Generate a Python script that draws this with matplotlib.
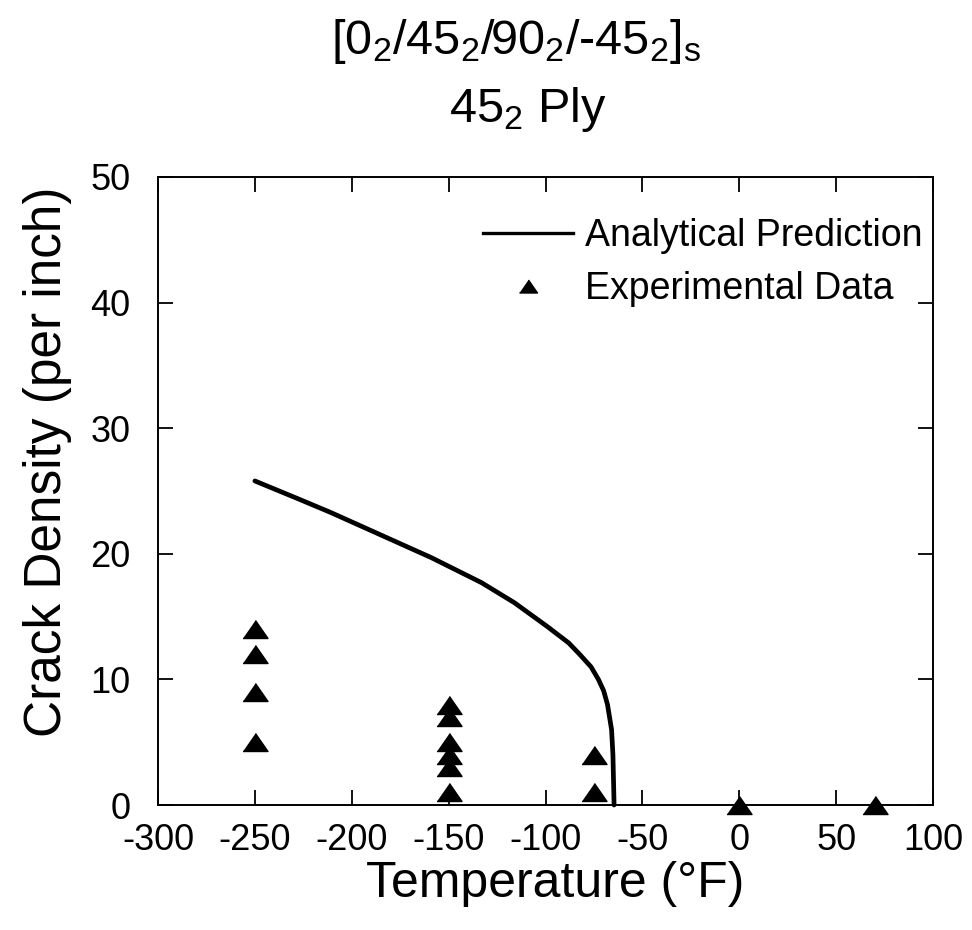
import matplotlib
matplotlib.use("Agg")
import matplotlib.pyplot as plt
from matplotlib.lines import Line2D

plt.rcParams['font.family'] = ['Liberation Sans', 'DejaVu Sans']
plt.rcParams['mathtext.fontset'] = 'custom'
plt.rcParams['mathtext.rm'] = 'Liberation Sans'
plt.rcParams['mathtext.it'] = 'Liberation Sans'
plt.rcParams['mathtext.default'] = 'regular'
plt.rcParams['axes.unicode_minus'] = False

# analytical prediction curve
pred_temp = [-250, -228, -211, -185, -159, -133, -116, -99, -88, -82.4, -76.5,
             -72.7, -70, -68, -65.9, -65.2, -64.9, -64.6]
pred_density = [25.8, 24.4, 23.3, 21.5, 19.7, 17.7, 16.1, 14.2, 12.9, 12.0, 11.0,
                10.0, 9.1, 8.0, 6.0, 4.0, 2.0, 0.0]

# experimental data
exp_temp = [-250, -250, -250, -250,
            -150, -150, -150, -150, -150, -150,
            -75, -75, 0, 70]
exp_density = [14, 12, 9, 5,
               8, 7, 5, 4, 3, 1,
               4, 1, 0, 0]

x_ticks = [-300, -250, -200, -150, -100, -50, 0, 50, 100]
y_ticks = [0, 10, 20, 30, 40, 50]

# wide triangle marker
tri = [(-1, -0.72), (1, -0.72), (0, 0.72)]

fig = plt.figure(figsize=(9.72, 9.30), dpi=100)
ax = fig.add_axes([158/972, 1 - 805/930, (933 - 158)/972, (805 - 177)/930])

ax.plot(pred_temp, pred_density, color='black', lw=3.4,
        solid_joinstyle='round', solid_capstyle='round', clip_on=False)
ax.plot(exp_temp, exp_density, linestyle='none', marker=tri, markersize=18,
        color='black', clip_on=False, zorder=5)

ax.set_xlim(-300, 100)
ax.set_ylim(0, 50)
ax.set_xticks(x_ticks)
ax.set_yticks(y_ticks)
ax.tick_params(direction='in', length=11, width=1.3, labelsize=26,
               top=True, right=True)
ax.tick_params(axis='y', pad=20)
ax.tick_params(axis='x', pad=13)
for s in ax.spines.values():
    s.set_linewidth(1.4)

ax.set_xlabel('Temperature (°F)', fontsize=36)
ax.set_ylabel('Crack Density (per inch)', fontsize=37)
ax.xaxis.set_label_coords(0.512, -0.089)
ax.yaxis.set_label_coords(-0.111, 0.546)

handles = [Line2D([], [], color='black', lw=2.4),
           Line2D([], [], linestyle='none', marker=tri, markersize=13, color='black')]
ax.legend(handles, ['Analytical Prediction', 'Experimental Data'],
          loc='upper right', frameon=False, fontsize=27, numpoints=1,
          handlelength=2.4, handletextpad=0.3, labelspacing=0.45,
          borderaxespad=0.2, bbox_to_anchor=(1.015, 0.97))

fig.text(516/972, 1 - 42/930, '[0$_2$/45$_2$/90$_2$/-45$_2$]$_s$',
         fontsize=35, ha='center', va='center')
fig.text(528/972, 1 - 110/930, '45$_2$ Ply', fontsize=35, ha='center', va='center')

fig.savefig('out.png', dpi=100)
